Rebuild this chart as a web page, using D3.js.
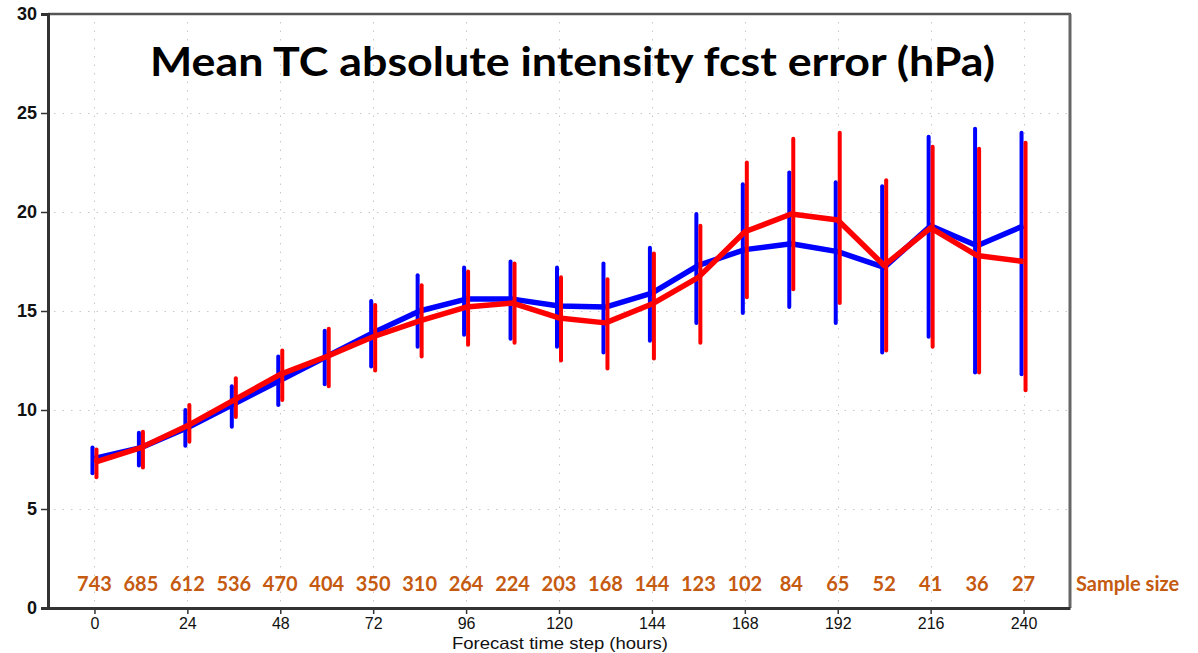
<!DOCTYPE html>
<html>
<head>
<meta charset="utf-8">
<script src="https://cdn.jsdelivr.net/npm/d3@7"></script>
<style>
  body { margin: 0; background: #fff; }
  svg { display: block; }
</style>
</head>
<body>
<div id="chart"></div>
<script>
// forecast lead times (hours)
const leadTimes = [0, 12, 24, 36, 48, 60, 72, 84, 96, 108, 120, 132, 144, 156, 168, 180, 192, 204, 216, 228, 240];
const sampleSizes = [743, 685, 612, 536, 470, 404, 350, 310, 264, 224, 203, 168, 144, 123, 102, 84, 65, 52, 41, 36, 27];

// blue series: mean, lower, upper
const blueMean = [7.55, 8.1, 9.1, 10.3, 11.5, 12.7, 13.9, 15.0, 15.6, 15.6, 15.25, 15.2, 15.9, 17.3, 18.1, 18.4, 18.0, 17.2, 19.3, 18.3, 19.3];
const blueLow  = [6.8, 7.2, 8.2, 9.15, 10.25, 11.3, 12.2, 13.2, 13.8, 13.6, 13.2, 12.9, 13.5, 14.4, 14.9, 15.2, 14.4, 12.9, 13.7, 11.9, 11.8];
const blueHigh = [8.1, 8.85, 10.0, 11.2, 12.7, 14.0, 15.5, 16.8, 17.2, 17.5, 17.2, 17.4, 18.2, 19.9, 21.4, 22.0, 21.5, 21.3, 23.8, 24.2, 24.0];

// red series: mean, lower, upper
const redMean = [7.35, 8.1, 9.2, 10.5, 11.8, 12.7, 13.7, 14.5, 15.2, 15.4, 14.65, 14.4, 15.35, 16.7, 19.0, 19.9, 19.6, 17.3, 19.2, 17.8, 17.5];
const redLow  = [6.6, 7.1, 8.4, 9.65, 10.5, 11.2, 12.0, 12.7, 13.3, 13.4, 12.5, 12.1, 12.6, 13.4, 15.7, 16.1, 15.4, 13.0, 13.2, 11.9, 11.0];
const redHigh = [8.0, 8.9, 10.25, 11.6, 13.0, 14.1, 15.3, 16.3, 17.0, 17.4, 16.7, 16.6, 17.9, 19.3, 22.5, 23.7, 24.0, 21.6, 23.3, 23.2, 23.5];

const xTicks = [0, 24, 48, 72, 96, 120, 144, 168, 192, 216, 240];
const yTicks = [0, 5, 10, 15, 20, 25, 30];

const width = 1198, height = 653;
const margin = { left: 48, right: 128, top: 14, bottom: 45 };

const svg = d3.select('#chart').append('svg')
    .attr('width', width)
    .attr('height', height);

const x = d3.scaleLinear()
    .domain([-12, 252])
    .range([margin.left, width - margin.right]);
const y = d3.scaleLinear()
    .domain([0, 30])
    .range([height - margin.bottom, margin.top]);

const x0 = x.range()[0], x1 = x.range()[1];
const y0 = y.range()[0], y1 = y.range()[1];

// dotted grid
const grid = svg.append('g').attr('stroke', '#c8c8c8').attr('stroke-width', 1).attr('stroke-dasharray', '1.5,7');
grid.selectAll('.gx').data(xTicks).join('line')
    .attr('x1', d => Math.round(x(d)) + 0.5).attr('x2', d => Math.round(x(d)) + 0.5)
    .attr('y1', y1 + 8).attr('y2', y0);
grid.selectAll('.gy').data(yTicks.filter(d => d > 0 && d < 30)).join('line')
    .attr('x1', x0 + 6).attr('x2', x1)
    .attr('y1', d => Math.round(y(d)) + 0.5).attr('y2', d => Math.round(y(d)) + 0.5);

// frame top/right
svg.append('line').attr('x1', x0).attr('x2', x1 + 1).attr('y1', y1).attr('y2', y1)
    .attr('stroke', '#555').attr('stroke-width', 2.5);
svg.append('line').attr('x1', x1).attr('x2', x1).attr('y1', y1).attr('y2', y0)
    .attr('stroke', '#666').attr('stroke-width', 3);

// title
svg.append('text')
    .attr('x', 150).attr('y', 76)
    .attr('textLength', 845).attr('lengthAdjust', 'spacingAndGlyphs')
    .style('font-family', 'Lato, "Open Sans", sans-serif')
    .style('font-weight', 'bold')
    .style('font-size', '40px')
    .attr('fill', '#000')
    .text('Mean TC absolute intensity fcst error (hPa)');

// error bars and lines
function drawSeries(mean, low, high, color, offset) {
    const g = svg.append('g');
    g.selectAll('line.err').data(leadTimes).join('line')
        .attr('class', 'err')
        .attr('x1', d => x(d) + offset).attr('x2', d => x(d) + offset)
        .attr('y1', (d, i) => y(low[i])).attr('y2', (d, i) => y(high[i]))
        .attr('stroke', color).attr('stroke-width', 4)
        .attr('stroke-linecap', 'round');
    return g;
}
function drawLine(mean, color) {
    const line = d3.line().x(d => x(d)).y((d, i) => y(mean[i]));
    svg.append('path')
        .datum(leadTimes)
        .attr('d', line)
        .attr('fill', 'none')
        .attr('stroke', color)
        .attr('stroke-width', 5.5)
        .attr('stroke-linejoin', 'round');
}

drawSeries(blueMean, blueLow, blueHigh, '#0000ff', -2);
drawLine(blueMean, '#0000ff');
drawSeries(redMean, redLow, redHigh, '#ff0000', 2);
drawLine(redMean, '#ff0000');

// axes
const yAxis = svg.append('g')
    .attr('transform', `translate(${x0},0)`)
    .call(d3.axisLeft(y).tickValues(yTicks).tickSize(7).tickPadding(4));
yAxis.select('.domain').attr('stroke', '#333').attr('stroke-width', 3);
yAxis.selectAll('.tick line').attr('stroke', '#333').attr('stroke-width', 1.5);
yAxis.selectAll('.tick text')
    .style('font-family', '"Liberation Sans", Arial, sans-serif')
    .style('font-weight', 'bold')
    .style('font-size', '18px')
    .attr('fill', '#111');

const xAxis = svg.append('g')
    .attr('transform', `translate(0,${y0})`)
    .call(d3.axisBottom(x).tickValues(xTicks).tickSize(6).tickPadding(4).tickSizeOuter(0));
xAxis.select('.domain').attr('stroke', '#333').attr('stroke-width', 3);
xAxis.selectAll('.tick line').attr('stroke', '#333').attr('stroke-width', 1.5);
xAxis.selectAll('.tick text')
    .style('font-family', '"Liberation Sans", Arial, sans-serif')
    .style('font-size', '16px')
    .attr('fill', '#111');

svg.append('text')
    .attr('x', 452).attr('y', 649)
    .attr('textLength', 216).attr('lengthAdjust', 'spacingAndGlyphs')
    .style('font-family', '"Liberation Sans", Arial, sans-serif')
    .style('font-size', '16.5px')
    .attr('fill', '#111')
    .text('Forecast time step (hours)');

// sample size labels
const orange = '#c55a11';
svg.append('g').selectAll('text').data(leadTimes).join('text')
    .attr('x', d => x(d))
    .attr('y', 591)
    .attr('text-anchor', 'middle')
    .style('font-family', 'Lato, "Open Sans", sans-serif')
    .style('font-weight', 'bold')
    .style('font-size', '20px')
    .attr('fill', orange)
    .text((d, i) => sampleSizes[i]);

svg.append('text')
    .attr('x', 1076).attr('y', 591)
    .style('font-family', 'Lato, "Open Sans", sans-serif')
    .style('font-weight', 'bold')
    .style('font-size', '20px')
    .attr('fill', orange)
    .text('Sample size');
</script>
</body>
</html>
